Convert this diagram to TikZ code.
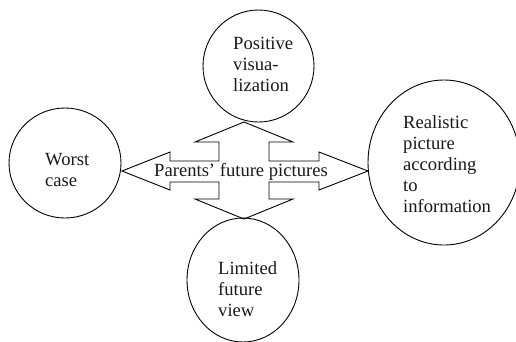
\documentclass[tikz,border=0pt]{standalone}
\usepackage{fontspec}
\setmainfont{Liberation Serif}
\usetikzlibrary{shapes.geometric}
\begin{document}
\begin{tikzpicture}[x=1pt,y=-1pt,
  bubble/.style={draw=black, line width=0.9pt, ellipse, inner sep=0pt},
  label/.style={inner sep=0pt, align=left, anchor=base west, text=black!90,
    font=\fontsize{18.6}{21}\selectfont},
  arrowshape/.style={draw=black, line width=0.9pt, line join=miter}]
\useasboundingbox (0,0) rectangle (516,341);
% circles
\node[bubble, minimum width=111pt, minimum height=112pt] (pos) at (258.5,66) {};
\node[bubble, minimum width=112pt, minimum height=110pt] (worst) at (65,163) {};
\node[bubble, minimum width=152pt, minimum height=165pt] (real) at (444,162.5) {};
\node[bubble, minimum width=112pt, minimum height=124pt] (lim) at (243,280) {};
% texts (anchor = baseline of the last line)
\node[label] (tpos) at (233,91) {Positive\\visua-\\lization};
\node[label] (tworst) at (45,186) {Worst\\case};
\node[label] (treal) at (403,212) {Realistic\\picture\\according\\to\\information};
\node[label] (tlim) at (218,316) {Limited\\future\\view};
% cross of double arrows
\draw[arrowshape] (244,122) -- (293,142) -- (269,142) -- (269,161) -- (319,161) -- (319,152)
  -- (368,171) -- (319,190) -- (319,182) -- (269,182) -- (269,199) -- (293,199)
  -- (244,219) -- (195,199) -- (219,199) -- (219,182) -- (170,182) -- (170,190)
  -- (122,171) -- (170,152) -- (170,161) -- (219,161) -- (219,142) -- (195,142) -- cycle;
\node[inner sep=0pt, anchor=base, text=black!90, font=\fontsize{18.6}{21}\selectfont] (center) at (241,176.5) {Parents’ future pictures};
\end{tikzpicture}
\end{document}
